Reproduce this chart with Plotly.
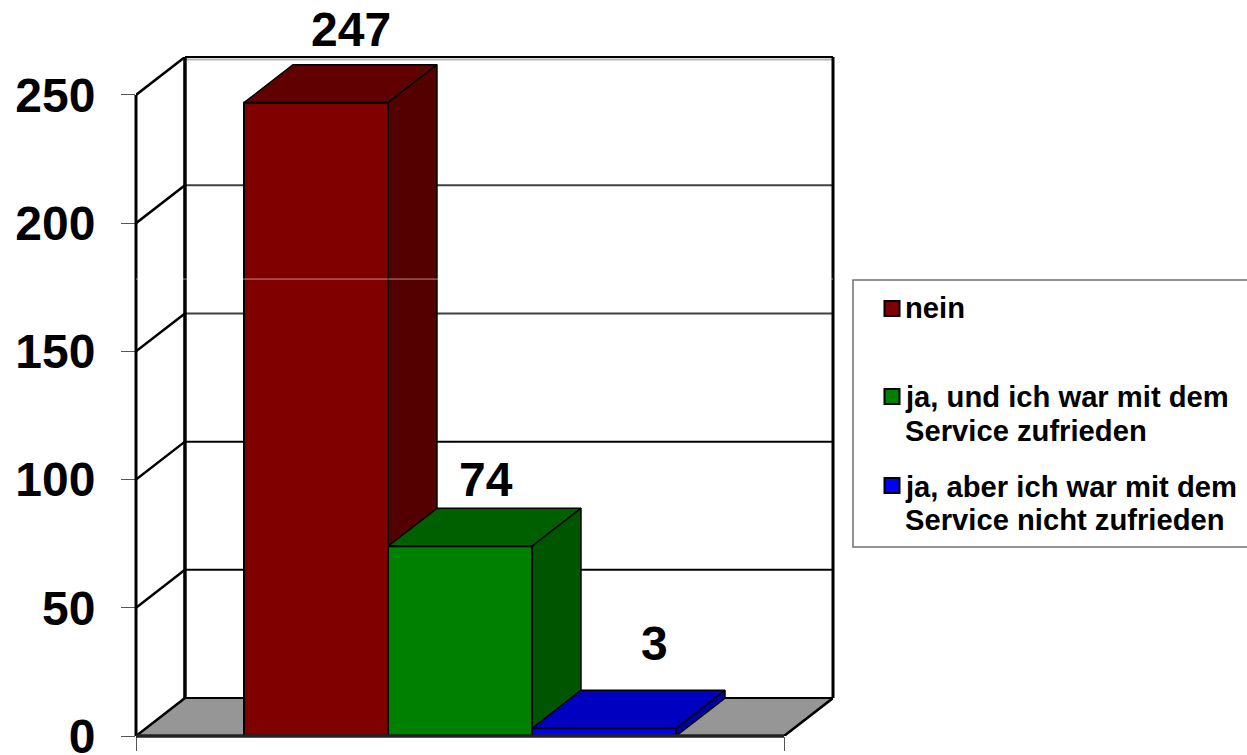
import plotly.graph_objects as go

categories = ["nein", "ja, und ich war mit dem<br>Service zufrieden", "ja, aber ich war mit dem<br>Service nicht zufrieden"]
values = [247, 74, 3]
front_colors = ["#800000", "#008000", "#0000ff"]
side_colors = ["#550000", "#005500", "#0000aa"]
top_colors = ["#600000", "#006000", "#0000c0"]
y_ticks = [0, 50, 100, 150, 200, 250]
grid_colors = ["#000000", "#000000", "#000000", "#404040", "#404040", "#000000"]
label_dx = [0.243, 0.18, 0.35]
label_dy = [28.5, 26, 33]

# legend placement in page pixels
legend_marker_y = [308.5, 396.5, 485.5]
legend_line_y = [[308], [397, 431], [487, 520]]

# fake 3d: depth of the box in axis units
dx = 0.34
dy = 14.8
x_left = -1.25
x_right = 3.25
x_end = x_right + dx
y_top = 250 + dy
font = "Liberation Sans"

# plot area in page pixels
plot_l, plot_r, plot_t, plot_b = 136, 833, 57, 736


def px_x(p):
    return (p - plot_l) / (plot_r - plot_l)


def px_y(p):
    return (plot_b - p) / (plot_b - plot_t)


fig = go.Figure()


def line(xs, ys, color="#000000", width=3, z=0):
    fig.add_trace(go.Scatter(x=xs, y=ys, mode="lines", line=dict(color=color, width=width),
                             showlegend=False, hoverinfo="skip", zorder=z))


def edge(x0, y0, x1, y1, color="#000000", width=3):
    # lines on the plot border: paper refs so they are not clipped in half
    fig.add_shape(type="line", xref="paper", yref="paper", layer="above",
                  x0=(x0 - x_left) / (x_end - x_left), x1=(x1 - x_left) / (x_end - x_left),
                  y0=y0 / y_top, y1=y1 / y_top, line=dict(color=color, width=width))


def face(xs, ys, color, z):
    fig.add_trace(go.Scatter(x=xs, y=ys, mode="lines", fill="toself", fillcolor=color,
                             line=dict(color="#000000", width=1.5),
                             showlegend=False, hoverinfo="skip", zorder=z))


# floor
face([x_left, x_left + dx, x_end, x_right, x_left], [0, dy, dy, 0, 0], "#969696", 0)

# walls and grid
for t, c in zip(y_ticks, grid_colors):
    line([x_left, x_left + dx], [t, t + dy], "#000000", 2.5)
    if 0 < t < 250:
        line([x_left + dx, x_end], [t + dy, t + dy], c, 2)
line([x_left + dx, x_end], [y_top - 1, y_top - 1], "#b4b4b4", 2)
line([x_left + dx, x_left + dx], [dy, y_top], "#000000", 3.5)
line([x_left + dx, x_end], [dy, dy], "#000000", 2)
line([x_right, x_end], [0, dy], "#000000", 2.5)
edge(x_left, 0, x_left, 250, "#000000", 3)
edge(x_end, dy, x_end, y_top, "#000000", 3)
edge(x_left + dx, y_top, x_end, y_top, "#000000", 2)

# bars, drawn back to front so each one covers the side of the one before
for i, v in enumerate(values):
    left, right = i - 0.5, i + 0.5
    z = 2 * i + 1
    face([left, left + dx, right + dx, right, left], [v, v + dy, v + dy, v, v], top_colors[i], z)
    face([right, right + dx, right + dx, right, right], [0, dy, v + dy, v, 0], side_colors[i], z)
    fig.add_trace(go.Bar(x=[i], y=[v], width=1, name=categories[i].replace("<br>", " "),
                         marker=dict(color=front_colors[i], line=dict(color="#000000", width=2)),
                         showlegend=False, hoverinfo="skip", zorder=z + 1))

edge(x_left, 0, x_right, 0, "#222222", 3.5)

for i, v in enumerate(values):
    fig.add_annotation(x=i + label_dx[i], yref="paper", y=(v + label_dy[i]) / y_top, text="<b>%d</b>" % v,
                       yanchor="middle", showarrow=False, font=dict(family=font, size=48, color="#000000"))

# pale scan line across the plot
fig.add_shape(type="line", x0=x_left, x1=x_end, y0=178.2, y1=178.2, layer="above",
              line=dict(color="rgba(255,255,255,0.55)", width=1))

# legend, by hand: the marker sits on the first line of each entry
fig.add_shape(type="rect", xref="paper", yref="paper", x0=px_x(853), x1=px_x(1252),
              y0=px_y(547), y1=px_y(280), line=dict(color="#707070", width=1.5))
for i, name in enumerate(categories):
    fig.add_shape(type="rect", xref="paper", yref="paper", x0=px_x(884.5), x1=px_x(899.5),
                  y0=px_y(legend_marker_y[i] + 7.5), y1=px_y(legend_marker_y[i] - 7.5),
                  fillcolor=front_colors[i], line=dict(color="#000000", width=2))
    for text, y in zip(name.split("<br>"), legend_line_y[i]):
        fig.add_annotation(xref="paper", yref="paper", x=px_x(903), y=px_y(y), text="<b>%s</b>" % text,
                           xanchor="left", yanchor="middle", showarrow=False,
                           font=dict(family=font, size=29.2, color="#000000"))

fig.update_layout(
    width=1247, height=755,
    margin=dict(l=plot_l, r=1247 - plot_r, t=plot_t, b=755 - plot_b),
    plot_bgcolor="#ffffff", paper_bgcolor="#ffffff",
    barmode="overlay", showlegend=False,
    font=dict(family=font, color="#000000"),
)
fig.update_xaxes(range=[x_left, x_end], showgrid=False, zeroline=False, showline=False, automargin=False,
                 tickmode="array", tickvals=[x_left, x_right], ticktext=["", ""],
                 ticks="outside", ticklen=14, tickcolor="#555555", tickwidth=1)
fig.update_yaxes(range=[0, y_top], showgrid=False, zeroline=False, showline=False, automargin=False,
                 tickmode="array", tickvals=y_ticks, ticklabeloverflow="allow", ticklabelstandoff=16,
                 ticks="outside", ticklen=14, tickcolor="#555555", tickwidth=1,
                 tickfont=dict(family=font, size=48, color="#000000", weight="bold"))

fig.write_html("out.html", config=dict(displayModeBar=False),
               post_script="document.body.style.margin='0';")
